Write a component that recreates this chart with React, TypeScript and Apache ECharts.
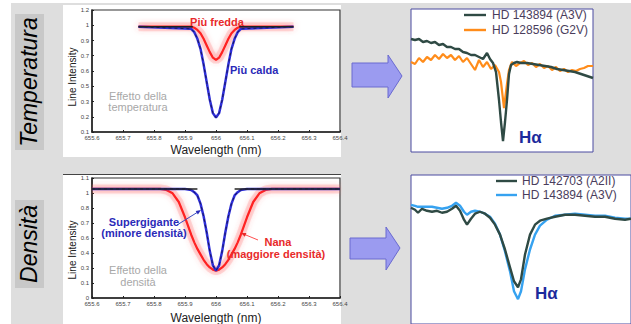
import React, { useEffect, useRef } from 'react';
import * as echarts from 'echarts';

const FONT = '"Liberation Sans", Arial, Helvetica, sans-serif';

// ---- Left charts: axes ----
const leftWavelengthTicks = [655.6, 655.7, 655.8, 655.9, 656.0, 656.1, 656.2, 656.3, 656.4];
const leftWavelengthLabels = ['655.6', '655.7', '655.8', '655.9', '656', '656.1', '656.2', '656.3', '656.4'];
const tempIntensityTicks = [0.1, 0.2375, 0.375, 0.5125, 0.65, 0.7875, 0.925, 1.0625, 1.2];
const tempIntensityLabels = ['0.1', '0.2', '0.3', '0.5', '0.6', '0.7', '0.9', '1', '1.2'];
const densIntensityTicks = [0, 0.1375, 0.275, 0.4125, 0.55, 0.6875, 0.825, 0.9625, 1.1];
const densIntensityLabels = ['0', '0.1', '0.3', '0.4', '0.6', '0.7', '0.8', '1', '1.1'];

// ---- Upper-left: temperature effect ----
const tempWavelength = [655.75, 655.92, 655.93, 655.94, 655.95, 655.96, 655.97, 655.98, 655.99, 656.0, 656.01, 656.02, 656.03, 656.04, 656.05, 656.06, 656.07, 656.08, 656.25];
const tempColder = [1.05, 1.05, 1.04, 1.02, 0.99, 0.94, 0.88, 0.82, 0.77, 0.75, 0.77, 0.82, 0.88, 0.94, 0.99, 1.02, 1.04, 1.05, 1.05];
const tempHotter = [1.05, 1.03, 1.0, 0.94, 0.85, 0.71, 0.55, 0.39, 0.27, 0.23, 0.27, 0.39, 0.55, 0.71, 0.85, 0.94, 1.0, 1.03, 1.05];
const tempContinuumLeft = [655.75, 655.925];
const tempContinuumRight = [656.075, 656.25];
const tempContinuumLevel = 1.05;

// ---- Lower-left: density effect ----
const densWavelength = [655.6, 655.82, 655.84, 655.86, 655.88, 655.9, 655.92, 655.93, 655.94, 655.95, 655.96, 655.97, 655.98, 655.99, 656.0, 656.01, 656.02, 656.03, 656.04, 656.05, 656.06, 656.07, 656.08, 656.1, 656.12, 656.14, 656.16, 656.18, 656.4];
const densDwarf = [1.0, 1.0, 0.99, 0.96, 0.88, 0.74, 0.58, 0.51, 0.45, 0.4, 0.35, 0.31, 0.28, 0.26, 0.25, 0.26, 0.28, 0.31, 0.35, 0.4, 0.45, 0.51, 0.58, 0.74, 0.88, 0.96, 0.99, 1.0, 1.0];
const densSupergiant = [1.0, 1.0, 1.0, 1.0, 1.0, 1.0, 0.99, 0.97, 0.94, 0.865, 0.75, 0.6, 0.43, 0.3, 0.25, 0.3, 0.43, 0.6, 0.75, 0.865, 0.94, 0.97, 0.99, 1.0, 1.0, 1.0, 1.0, 1.0, 1.0];
const densContinuumLeft = [655.6, 655.94];
const densContinuumRight = [656.06, 656.4];
const densContinuumLevel = 1.0;

// ---- Upper-right: observed spectra (sample index, relative flux) ----
const obsTempX_A3V = [0, 4, 8, 12, 16, 20, 24, 28, 32, 36, 40, 44, 48, 52, 56, 60, 64, 68, 72, 76, 79, 82, 85, 88, 90, 92, 94, 96, 98, 100, 103, 106, 110, 116, 122, 128, 134, 140, 146, 152, 158, 164, 170, 176, 182];
const obsTempY_A3V = [1.13, 1.12, 1.13, 1.1, 1.11, 1.09, 1.1, 1.07, 1.08, 1.05, 1.05, 1.03, 1.03, 1.0, 0.99, 0.97, 0.97, 0.95, 0.93, 0.99, 0.93, 0.89, 0.8, 0.52, 0.3, 0.11, 0.3, 0.52, 0.78, 0.87, 0.89, 0.9, 0.89, 0.89, 0.88, 0.87, 0.86, 0.85, 0.83, 0.82, 0.81, 0.8, 0.78, 0.76, 0.74];
const obsTempX_G2V = [0, 4, 8, 12, 16, 20, 24, 28, 32, 36, 40, 44, 48, 52, 56, 60, 64, 68, 72, 76, 80, 84, 88, 90, 93, 96, 98, 101, 105, 109, 113, 117, 121, 125, 129, 133, 137, 141, 145, 149, 153, 157, 161, 165, 169, 173, 177, 182];
const obsTempY_G2V = [0.9, 0.88, 0.94, 0.9, 0.95, 0.92, 0.97, 0.93, 0.98, 0.94, 0.97, 0.92, 0.96, 0.9, 0.94, 0.88, 0.82, 0.92, 0.85, 0.9, 0.83, 0.87, 0.8, 0.7, 0.44, 0.68, 0.82, 0.9, 0.86, 0.89, 0.91, 0.87, 0.89, 0.85, 0.88, 0.84, 0.86, 0.82, 0.85, 0.81, 0.83, 0.8, 0.82, 0.81, 0.83, 0.84, 0.86, 0.86];

// ---- Lower-right: observed spectra ----
const obsDensX = [0, 4, 7, 11, 16, 21, 26, 31, 36, 41, 45, 49, 53, 56, 60, 64, 69, 74, 79, 84, 89, 94, 99, 103, 107, 110, 114, 119, 124, 129, 136, 144, 154, 164, 174, 184, 194, 204, 214, 220];
const obsDensY_A2II = [1.17, 1.15, 1.12, 1.16, 1.14, 1.13, 1.14, 1.12, 1.13, 1.16, 1.19, 1.14, 1.05, 1.0, 1.06, 1.11, 1.13, 1.11, 1.07, 1.0, 0.9, 0.75, 0.57, 0.43, 0.37, 0.45, 0.7, 0.9, 1.0, 1.04, 1.06, 1.08, 1.1, 1.1, 1.09, 1.08, 1.08, 1.06, 1.05, 1.06];
const obsDensY_A3V = [1.2, 1.19, 1.18, 1.18, 1.18, 1.18, 1.17, 1.16, 1.17, 1.19, 1.22, 1.19, 1.13, 1.1, 1.13, 1.14, 1.13, 1.11, 1.08, 1.01, 0.9, 0.73, 0.53, 0.33, 0.25, 0.33, 0.55, 0.75, 0.9, 0.99, 1.05, 1.09, 1.1, 1.11, 1.1, 1.09, 1.09, 1.07, 1.06, 1.06];

const zip = (xs: number[], ys: number[]) => xs.map((x, i) => [x, ys[i]]);
const flat = (xs: number[], v: number) => xs.map((x) => [x, v]);
const labelFor = (ticks: number[], labels: string[]) => (v: number) => {
  const i = ticks.findIndex((t) => Math.abs(t - v) < 1e-6);
  return i >= 0 ? labels[i] : '';
};

const leftX = (gridIndex: number) => ({
  type: 'value', gridIndex, min: 655.6, max: 656.4,
  axisLine: { show: true, onZero: false, lineStyle: { color: '#222', width: 1.5 } },
  axisTick: { show: true, inside: true, length: 2, customValues: leftWavelengthTicks, lineStyle: { color: '#222' } },
  axisLabel: { customValues: leftWavelengthTicks, formatter: labelFor(leftWavelengthTicks, leftWavelengthLabels), fontSize: 6, color: '#444', margin: 3, fontFamily: FONT },
  splitLine: { show: false },
});
const leftY = (gridIndex: number, min: number, max: number, ticks: number[], labels: string[]) => ({
  type: 'value', gridIndex, min, max,
  axisLine: { show: true, onZero: false, lineStyle: { color: '#222', width: 1.5 } },
  axisTick: { show: true, inside: true, length: 2, customValues: ticks, lineStyle: { color: '#222' } },
  axisLabel: { customValues: ticks, formatter: labelFor(ticks, labels), fontSize: 6, color: '#444', margin: 3, fontFamily: FONT },
  splitLine: { show: false },
});
const hiddenAxis = (gridIndex: number, min: number, max: number) => ({ type: 'value', gridIndex, min, max, show: false });

const glow = { shadowBlur: 7, shadowColor: 'rgba(255,70,70,0.75)' };
const haloStyle = { color: 'rgba(255,110,110,0.22)', width: 9 };

const txt = (x: number, y: number, text: string, opts: any = {}) => ({
  type: 'text', x, y, z: 100, rotation: opts.rotation || 0,
  style: {
    text, fill: opts.fill || '#000', fontSize: opts.size || 11, fontWeight: opts.weight || 'normal',
    fontStyle: opts.style || 'normal', fontFamily: FONT,
    align: opts.align || 'center', verticalAlign: 'middle',
    textAlign: opts.align || 'center', textVerticalAlign: 'middle',
  },
});

export default function App() {
  const ref = useRef<HTMLDivElement>(null);
  useEffect(() => {
    const chart = echarts.init(ref.current!, null, { renderer: 'svg', width: 631, height: 324 });
    const option: any = {
      animation: false,
      grid: [
        { left: 92, top: 10, width: 248, height: 122, show: true, borderColor: '#333', borderWidth: 1.2, backgroundColor: 'transparent' },
        { left: 92, top: 178, width: 248, height: 120, show: true, borderColor: '#333', borderWidth: 1.2, backgroundColor: 'transparent' },
        { left: 411, top: 9, width: 182, height: 143, show: true, backgroundColor: '#fff', borderColor: '#4a4aa0', borderWidth: 1 },
        { left: 411, top: 175, width: 222, height: 150, show: true, backgroundColor: '#fff', borderColor: '#4a4aa0', borderWidth: 1 },
      ],
      xAxis: [leftX(0), leftX(1), hiddenAxis(2, 0, 182), hiddenAxis(3, 0, 220)],
      yAxis: [
        leftY(0, 0.1, 1.2, tempIntensityTicks, tempIntensityLabels),
        leftY(1, 0, 1.1, densIntensityTicks, densIntensityLabels),
        hiddenAxis(2, 0, 1.43),
        hiddenAxis(3, 0, 1.5),
      ],
      series: [
        // upper-left
        { name: 'Più fredda alone', type: 'line', xAxisIndex: 0, yAxisIndex: 0, data: zip(tempWavelength, tempColder), showSymbol: false, silent: true, lineStyle: haloStyle },
        { name: 'Più fredda', type: 'line', xAxisIndex: 0, yAxisIndex: 0, data: zip(tempWavelength, tempColder), showSymbol: false, lineStyle: { color: '#ff2020', width: 2.2, ...glow } },
        { name: 'Più calda', type: 'line', xAxisIndex: 0, yAxisIndex: 0, data: zip(tempWavelength, tempHotter), showSymbol: false, lineStyle: { color: '#2e2ed8', width: 2.5 } },
        { name: 'Più calda bordo', type: 'line', xAxisIndex: 0, yAxisIndex: 0, data: zip(tempWavelength, tempHotter), showSymbol: false, lineStyle: { color: '#14143a', width: 0.8, type: [3, 3] } },
        { name: 'Continuo A', type: 'line', xAxisIndex: 0, yAxisIndex: 0, data: flat(tempContinuumLeft, tempContinuumLevel), showSymbol: false, lineStyle: { color: '#222', width: 1.5 } },
        { name: 'Continuo B', type: 'line', xAxisIndex: 0, yAxisIndex: 0, data: flat(tempContinuumRight, tempContinuumLevel), showSymbol: false, lineStyle: { color: '#222', width: 1.5 } },
        // lower-left
        { name: 'Nana alone', type: 'line', xAxisIndex: 1, yAxisIndex: 1, data: zip(densWavelength, densDwarf), showSymbol: false, silent: true, lineStyle: haloStyle },
        { name: 'Nana', type: 'line', xAxisIndex: 1, yAxisIndex: 1, data: zip(densWavelength, densDwarf), showSymbol: false, lineStyle: { color: '#ff2020', width: 2.2, ...glow } },
        { name: 'Supergigante', type: 'line', xAxisIndex: 1, yAxisIndex: 1, data: zip(densWavelength, densSupergiant), showSymbol: false, lineStyle: { color: '#2e2ed8', width: 2.5 } },
        { name: 'Supergigante bordo', type: 'line', xAxisIndex: 1, yAxisIndex: 1, data: zip(densWavelength, densSupergiant), showSymbol: false, lineStyle: { color: '#14143a', width: 0.8, type: [3, 3] } },
        { name: 'Continuo C', type: 'line', xAxisIndex: 1, yAxisIndex: 1, data: flat(densContinuumLeft, densContinuumLevel), showSymbol: false, lineStyle: { color: '#222', width: 1.5 } },
        { name: 'Continuo D', type: 'line', xAxisIndex: 1, yAxisIndex: 1, data: flat(densContinuumRight, densContinuumLevel), showSymbol: false, lineStyle: { color: '#222', width: 1.5 } },
        // upper-right
        { name: 'HD 128596 (G2V)', type: 'line', xAxisIndex: 2, yAxisIndex: 2, data: zip(obsTempX_G2V, obsTempY_G2V), showSymbol: false, lineStyle: { color: '#ff8c1a', width: 2.2 } },
        { name: 'HD 143894 (A3V) T', type: 'line', xAxisIndex: 2, yAxisIndex: 2, data: zip(obsTempX_A3V, obsTempY_A3V), showSymbol: false, lineStyle: { color: '#2f4a44', width: 2.4 } },
        // lower-right
        { name: 'HD 143894 (A3V) D', type: 'line', xAxisIndex: 3, yAxisIndex: 3, data: zip(obsDensX, obsDensY_A3V), showSymbol: false, lineStyle: { color: '#36a2f0', width: 2.4 } },
        { name: 'HD 142703 (A2II)', type: 'line', xAxisIndex: 3, yAxisIndex: 3, data: zip(obsDensX, obsDensY_A2II), showSymbol: false, lineStyle: { color: '#2f4a44', width: 2.4 } },
      ],
      graphic: [
        { type: 'rect', z: -100, shape: { x: 11, y: 3, width: 620, height: 321 }, style: { fill: '#dedede' } },
        { type: 'rect', z: -90, shape: { x: 15, y: 14, width: 29, height: 136 }, style: { fill: '#c8c8c8' } },
        { type: 'rect', z: -90, shape: { x: 15, y: 200, width: 29, height: 88 }, style: { fill: '#c8c8c8' } },
        { type: 'rect', z: -90, shape: { x: 63, y: 5, width: 278, height: 152 }, style: { fill: '#fff' } },
        { type: 'rect', z: -90, shape: { x: 63, y: 174, width: 278, height: 150 }, style: { fill: '#fff' } },
        { type: 'line', z: 50, shape: { x1: 63, y1: 174.5, x2: 341, y2: 174.5 }, style: { stroke: '#444', lineWidth: 1.2 } },
        txt(29, 82, 'Temperatura', { size: 23, style: 'italic', rotation: Math.PI / 2 }),
        txt(29, 244, 'Densità', { size: 23, style: 'italic', rotation: Math.PI / 2 }),
        // arrows
        { type: 'polygon', z: 10, shape: { points: [[352, 63], [388, 63], [388, 55], [402, 76], [388, 98], [388, 87], [352, 87]] }, style: { fill: '#9b9bf0', stroke: '#6a6ad0', lineWidth: 1 } },
        { type: 'polygon', z: 10, shape: { points: [[350, 238], [386, 238], [386, 227], [400, 248], [386, 270], [386, 259], [350, 259]] }, style: { fill: '#9b9bf0', stroke: '#6a6ad0', lineWidth: 1 } },
        // upper-left texts
        txt(72, 77, 'Line Intensity', { size: 10, fill: '#222', rotation: Math.PI / 2 }),
        txt(216, 150, 'Wavelength (nm)', { size: 12, fill: '#222' }),
        txt(217, 22, 'Più fredda', { size: 11, weight: 'bold', fill: '#e82a2a' }),
        txt(230, 70, 'Più calda', { size: 11, weight: 'bold', fill: '#2a2ab8', align: 'left' }),
        txt(138, 96, 'Effetto della', { size: 11, fill: '#a8a8a8' }),
        txt(138, 107, 'temperatura', { size: 11, fill: '#a8a8a8' }),
        // lower-left texts
        txt(72, 250, 'Line Intensity', { size: 10, fill: '#222', rotation: Math.PI / 2 }),
        txt(216, 318, 'Wavelength (nm)', { size: 12, fill: '#222' }),
        txt(144, 222, 'Supergigante', { size: 11, weight: 'bold', fill: '#2a2ab8' }),
        txt(144, 233, '(minore densità)', { size: 11, weight: 'bold', fill: '#2a2ab8' }),
        txt(278, 242, 'Nana', { size: 11, weight: 'bold', fill: '#e82a2a' }),
        txt(276, 254, '(maggiore densità)', { size: 11, weight: 'bold', fill: '#e82a2a' }),
        txt(138, 270, 'Effetto della', { size: 11, fill: '#a8a8a8' }),
        txt(138, 282, 'densità', { size: 11, fill: '#a8a8a8' }),
        { type: 'line', z: 60, shape: { x1: 177, y1: 225, x2: 199, y2: 211.3 }, style: { stroke: '#3a4ac0', lineWidth: 1 } },
        { type: 'polygon', z: 60, shape: { points: [[201, 210], [197.9, 214.4], [195.7, 211.0]] }, style: { fill: '#2a2ab8' } },
        { type: 'line', z: 60, shape: { x1: 258, y1: 240, x2: 243, y2: 233.8 }, style: { stroke: '#ff5050', lineWidth: 1 } },
        { type: 'polygon', z: 60, shape: { points: [[241, 233], [246.4, 233.1], [244.8, 236.8]] }, style: { fill: '#e82a2a' } },
        // upper-right legend
        { type: 'line', z: 60, shape: { x1: 464, y1: 15, x2: 486, y2: 15 }, style: { stroke: '#2f4a44', lineWidth: 2.4 } },
        txt(492, 15, 'HD 143894 (A3V)', { size: 12, fill: '#4a3d5c', align: 'left' }),
        { type: 'line', z: 60, shape: { x1: 464, y1: 30, x2: 486, y2: 30 }, style: { stroke: '#ff8c1a', lineWidth: 2.4 } },
        txt(492, 30, 'HD 128596 (G2V)', { size: 12, fill: '#4a3d5c', align: 'left' }),
        txt(519, 137, 'Hα', { size: 17, weight: 'bold', fill: '#1c2a9c', align: 'left' }),
        // lower-right legend
        { type: 'line', z: 60, shape: { x1: 496, y1: 181, x2: 517, y2: 181 }, style: { stroke: '#2f4a44', lineWidth: 2.4 } },
        txt(522, 181, 'HD 142703 (A2II)', { size: 12, fill: '#4a3d5c', align: 'left' }),
        { type: 'line', z: 60, shape: { x1: 496, y1: 195, x2: 517, y2: 195 }, style: { stroke: '#36a2f0', lineWidth: 2.4 } },
        txt(522, 195, 'HD 143894 (A3V)', { size: 12, fill: '#4a3d5c', align: 'left' }),
        txt(535, 293, 'Hα', { size: 17, weight: 'bold', fill: '#1c2a9c', align: 'left' }),
      ],
    };
    chart.setOption(option);
    return () => chart.dispose();
  }, []);
  return <div ref={ref} style={{ position: 'absolute', left: 0, top: 0, width: 631, height: 324 }} />;
}
